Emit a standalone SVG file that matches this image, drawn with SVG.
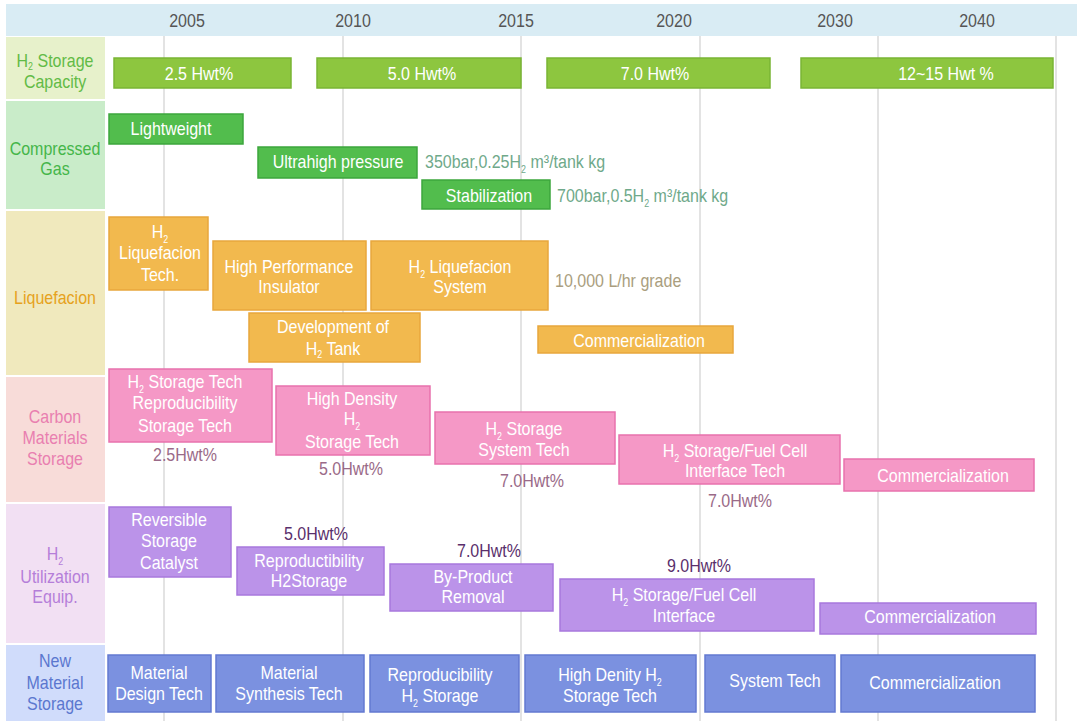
<svg xmlns="http://www.w3.org/2000/svg" width="1077" height="721" viewBox="0 0 1077 721">
<style>
text{font-family:"Liberation Sans",Arial,sans-serif;font-size:18px;text-anchor:middle}
.st{text-anchor:start}
.w{fill:#fff}
.s{font-size:10px}
.grid{stroke:#dadada;stroke-width:1.5}
.yr{fill:#555}
.b1{fill:#8dc63f;stroke:#7ab534;stroke-width:1.5}
.b2{fill:#52bd4d;stroke:#3da63d;stroke-width:1.5}
.b3{fill:#f2b94e;stroke:#e8a73c;stroke-width:1.5}
.b4{fill:#f598c6;stroke:#e872ad;stroke-width:1.5}
.b5{fill:#bb93e9;stroke:#a878dd;stroke-width:1.5}
.b6{fill:#7b91e0;stroke:#6379d1;stroke-width:1.5}
.a2{fill:#6fa98a}
.a3{fill:#aa9e7e}
.a4{fill:#9a6a88}
.a5{fill:#5a2f6c}
</style>
<rect x="0" y="0" width="1077" height="721" fill="#fff"/>
<g id="header">
<rect x="6" y="4" width="1071" height="32" fill="#d9ecf4"/>
<text class="yr" transform="translate(187,27) scale(.89,1)">2005</text>
<text class="yr" transform="translate(353,27) scale(.89,1)">2010</text>
<text class="yr" transform="translate(516,27) scale(.89,1)">2015</text>
<text class="yr" transform="translate(674,27) scale(.89,1)">2020</text>
<text class="yr" transform="translate(835,27) scale(.89,1)">2030</text>
<text class="yr" transform="translate(977,27) scale(.89,1)">2040</text>
</g>
<g id="gridlines">
<line class="grid" x1="164" y1="36" x2="164" y2="721"/>
<line class="grid" x1="343" y1="36" x2="343" y2="721"/>
<line class="grid" x1="521" y1="36" x2="521" y2="721"/>
<line class="grid" x1="700" y1="36" x2="700" y2="721"/>
<line class="grid" x1="878" y1="36" x2="878" y2="721"/>
<line class="grid" x1="1056" y1="36" x2="1056" y2="721"/>
</g>
<g id="row-labels">
<g id="label-capacity">
<rect x="6" y="37" width="99" height="62" fill="#e7f1cb"/>
<text fill="#62bb46" transform="translate(55,0) scale(.89,1)"><tspan x="0" y="67">H<tspan class="s" font-size="9" dy="3">2</tspan><tspan dy="-3"> Storage</tspan></tspan><tspan x="0" y="88">Capacity</tspan></text>
</g>
<g id="label-compressed">
<rect x="6" y="101" width="99" height="108" fill="#c9ecc9"/>
<text fill="#45b649" transform="translate(55,0) scale(.89,1)"><tspan x="0" y="155">Compressed</tspan><tspan x="0" y="175">Gas</tspan></text>
</g>
<g id="label-liquefacion">
<rect x="6" y="211" width="99" height="164" fill="#f0e9bd"/>
<text fill="#e6a21c" transform="translate(55,304) scale(.89,1)">Liquefacion</text>
</g>
<g id="label-carbon">
<rect x="6" y="377" width="99" height="125" fill="#f8dcd9"/>
<text fill="#e97fb0" transform="translate(55,0) scale(.89,1)"><tspan x="0" y="423">Carbon</tspan><tspan x="0" y="444">Materials</tspan><tspan x="0" y="465">Storage</tspan></text>
</g>
<g id="label-utilization">
<rect x="6" y="504" width="99" height="139" fill="#f2e0f3"/>
<text fill="#b57ed9" transform="translate(55,0) scale(.89,1)"><tspan x="0" y="560">H<tspan class="s" dy="5">2</tspan></tspan><tspan x="0" y="583">Utilization</tspan><tspan x="0" y="603">Equip.</tspan></text>
</g>
<g id="label-newmaterial">
<rect x="6" y="645" width="99" height="76" fill="#d0dcfb"/>
<text fill="#5b77cf" transform="translate(55,0) scale(.89,1)"><tspan x="0" y="667">New</tspan><tspan x="0" y="689">Material</tspan><tspan x="0" y="710">Storage</tspan></text>
</g>
</g>
<g id="row-capacity">
<g id="cap-25"><rect class="b1" x="114" y="58" width="177" height="30"/><text class="w" transform="translate(199,80) scale(.89,1)">2.5 Hwt%</text></g>
<g id="cap-50"><rect class="b1" x="317" y="58" width="204" height="30"/><text class="w" transform="translate(422,80) scale(.89,1)">5.0 Hwt%</text></g>
<g id="cap-70"><rect class="b1" x="547" y="58" width="223" height="30"/><text class="w" transform="translate(655,80) scale(.89,1)">7.0 Hwt%</text></g>
<g id="cap-1215"><rect class="b1" x="801" y="58" width="252" height="30"/><text class="w" transform="translate(946,80) scale(.89,1)">12~15 Hwt %</text></g>
</g>
<g id="row-compressed">
<g id="cg-lightweight"><rect class="b2" x="109" y="114" width="134" height="30"/><text class="w" transform="translate(171,135) scale(.89,1)">Lightweight</text></g>
<g id="cg-ultrahigh"><rect class="b2" x="258" y="147" width="159" height="31"/><text class="w" transform="translate(338,168) scale(.89,1)">Ultrahigh pressure</text></g>
<g id="cg-stabilization"><rect class="b2" x="422" y="180" width="128" height="29"/><text class="w" transform="translate(489,202) scale(.89,1)">Stabilization</text></g>
<g id="cg-note-350"><text class="a2 st" transform="translate(425,168) scale(.89,1)">350bar,0.25H<tspan class="s" dy="5">2</tspan><tspan dy="-5"> m³/tank kg</tspan></text></g>
<g id="cg-note-700"><text class="a2 st" transform="translate(557,202) scale(.89,1)">700bar,0.5H<tspan class="s" dy="5">2</tspan><tspan dy="-5"> m³/tank kg</tspan></text></g>
</g>
<g id="row-liquefacion">
<g id="lq-tech"><rect class="b3" x="109" y="217" width="99" height="73"/><text class="w" transform="translate(160,0) scale(.89,1)"><tspan x="0" y="238">H<tspan class="s" dy="5">2</tspan></tspan><tspan x="0" y="259">Liquefacion</tspan><tspan x="0" y="281">Tech.</tspan></text></g>
<g id="lq-insulator"><rect class="b3" x="213" y="241" width="153" height="69"/><text class="w" transform="translate(289,0) scale(.89,1)"><tspan x="0" y="273">High Performance</tspan><tspan x="0" y="293">Insulator</tspan></text></g>
<g id="lq-system"><rect class="b3" x="371" y="241" width="177" height="69"/><text class="w" transform="translate(460,0) scale(.89,1)"><tspan x="0" y="273">H<tspan class="s" dy="5">2</tspan><tspan dy="-5"> Liquefacion</tspan></tspan><tspan x="0" y="293">System</tspan></text></g>
<g id="lq-tank"><rect class="b3" x="249" y="313" width="171" height="49"/><text class="w" transform="translate(333,0) scale(.89,1)"><tspan x="0" y="333">Development of</tspan><tspan x="0" y="355">H<tspan class="s" dy="3">2</tspan><tspan dy="-3"> Tank</tspan></tspan></text></g>
<g id="lq-commercial"><rect class="b3" x="538" y="326" width="195" height="27"/><text class="w" transform="translate(639,347) scale(.89,1)">Commercialization</text></g>
<g id="lq-note"><text class="a3 st" transform="translate(555,287) scale(.89,1)">10,000 L/hr grade</text></g>
</g>
<g id="row-carbon">
<g id="cm-reproducibility"><rect class="b4" x="109" y="369" width="163" height="73"/><text class="w" transform="translate(185,0) scale(.89,1)"><tspan x="0" y="388">H<tspan class="s" dy="5">2</tspan><tspan dy="-5"> Storage Tech</tspan></tspan><tspan x="0" y="409">Reproducibility</tspan><tspan x="0" y="432">Storage Tech</tspan></text></g>
<g id="cm-note-25"><text class="a4" transform="translate(185,461) scale(.89,1)">2.5Hwt%</text></g>
<g id="cm-highdensity"><rect class="b4" x="276" y="386" width="154" height="69"/><text class="w" transform="translate(352,0) scale(.89,1)"><tspan x="0" y="405">High Density</tspan><tspan x="0" y="425">H<tspan class="s" dy="5">2</tspan></tspan><tspan x="0" y="448">Storage Tech</tspan></text></g>
<g id="cm-note-50"><text class="a4" transform="translate(351,475) scale(.89,1)">5.0Hwt%</text></g>
<g id="cm-system"><rect class="b4" x="435" y="412" width="180" height="52"/><text class="w" transform="translate(524,0) scale(.89,1)"><tspan x="0" y="435">H<tspan class="s" dy="5">2</tspan><tspan dy="-5"> Storage</tspan></tspan><tspan x="0" y="456">System Tech</tspan></text></g>
<g id="cm-note-70a"><text class="a4" transform="translate(532,487) scale(.89,1)">7.0Hwt%</text></g>
<g id="cm-interface"><rect class="b4" x="619" y="435" width="221" height="49"/><text class="w" transform="translate(735,0) scale(.89,1)"><tspan x="0" y="457">H<tspan class="s" dy="5">2</tspan><tspan dy="-5"> Storage/Fuel Cell</tspan></tspan><tspan x="0" y="477">Interface Tech</tspan></text></g>
<g id="cm-note-70b"><text class="a4" transform="translate(740,507) scale(.89,1)">7.0Hwt%</text></g>
<g id="cm-commercial"><rect class="b4" x="844" y="459" width="190" height="32"/><text class="w" transform="translate(943,482) scale(.89,1)">Commercialization</text></g>
</g>
<g id="row-utilization">
<g id="ue-catalyst"><rect class="b5" x="109" y="507" width="122" height="70"/><text class="w" transform="translate(169,0) scale(.89,1)"><tspan x="0" y="526">Reversible</tspan><tspan x="0" y="547">Storage</tspan><tspan x="0" y="569">Catalyst</tspan></text></g>
<g id="ue-note-50"><text class="a5" transform="translate(316,540) scale(.89,1)">5.0Hwt%</text></g>
<g id="ue-reproductibility"><rect class="b5" x="237" y="547" width="147" height="48"/><text class="w" transform="translate(309,0) scale(.89,1)"><tspan x="0" y="567">Reproductibility</tspan><tspan x="0" y="587">H2Storage</tspan></text></g>
<g id="ue-note-70"><text class="a5" transform="translate(489,557) scale(.89,1)">7.0Hwt%</text></g>
<g id="ue-byproduct"><rect class="b5" x="390" y="564" width="163" height="47"/><text class="w" transform="translate(473,0) scale(.89,1)"><tspan x="0" y="583">By-Product</tspan><tspan x="0" y="603">Removal</tspan></text></g>
<g id="ue-note-90"><text class="a5" transform="translate(699,572) scale(.89,1)">9.0Hwt%</text></g>
<g id="ue-interface"><rect class="b5" x="560" y="579" width="254" height="52"/><text class="w" transform="translate(684,0) scale(.89,1)"><tspan x="0" y="601">H<tspan class="s" dy="5">2</tspan><tspan dy="-5"> Storage/Fuel Cell</tspan></tspan><tspan x="0" y="622">Interface</tspan></text></g>
<g id="ue-commercial"><rect class="b5" x="820" y="603" width="216" height="31"/><text class="w" transform="translate(930,623) scale(.89,1)">Commercialization</text></g>
</g>
<g id="row-newmaterial">
<g id="nm-design"><rect class="b6" x="108" y="655" width="103" height="57"/><text class="w" transform="translate(159,0) scale(.89,1)"><tspan x="0" y="679">Material</tspan><tspan x="0" y="700">Design Tech</tspan></text></g>
<g id="nm-synthesis"><rect class="b6" x="216" y="655" width="148" height="57"/><text class="w" transform="translate(289,0) scale(.89,1)"><tspan x="0" y="679">Material</tspan><tspan x="0" y="700">Synthesis Tech</tspan></text></g>
<g id="nm-reproducibility"><rect class="b6" x="370" y="655" width="149" height="57"/><text class="w" transform="translate(440,0) scale(.89,1)"><tspan x="0" y="681">Reproducibility</tspan><tspan x="0" y="702">H<tspan class="s" dy="5">2</tspan><tspan dy="-5"> Storage</tspan></tspan></text></g>
<g id="nm-highdensity"><rect class="b6" x="525" y="655" width="171" height="57"/><text class="w" transform="translate(610,0) scale(.89,1)"><tspan x="0" y="681">High Denity H<tspan class="s" dy="5">2</tspan></tspan><tspan x="0" y="702">Storage Tech</tspan></text></g>
<g id="nm-system"><rect class="b6" x="705" y="655" width="130" height="57"/><text class="w" transform="translate(775,687) scale(.89,1)">System Tech</text></g>
<g id="nm-commercial"><rect class="b6" x="841" y="655" width="194" height="57"/><text class="w" transform="translate(935,689) scale(.89,1)">Commercialization</text></g>
</g>
</svg>
